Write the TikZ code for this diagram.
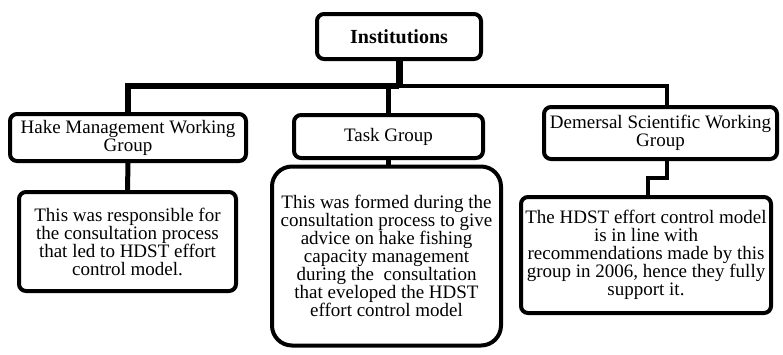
\documentclass[tikz,border=0pt]{standalone}
\usepackage{fontspec}
\setmainfont{Liberation Serif}
\usetikzlibrary{positioning}
\tikzset{
  head/.style ={rectangle, rounded corners=7pt, draw=black, line width=4pt,
                fill=white, align=center, inner sep=2pt,
                font=\fontsize{20}{20}\selectfont\bfseries},
  unit/.style ={rectangle, rounded corners=7pt, draw=black, line width=4pt,
                fill=white, align=center, inner sep=2pt,
                font=\fontsize{19}{18}\selectfont},
  note/.style ={unit},
  bus/.style  ={draw=black, line width=5pt},
  wire/.style ={draw=black, line width=3.5pt}
}

\begin{document}
\begin{tikzpicture}[x=1pt,y=-1pt]
\useasboundingbox (0,0) rectangle (783,354);

%% ---- Top ------------------------------------------------------------
\node[head, minimum width=164pt, minimum height=45pt] (inst) at (399,36.5)
{Institutions};

%% ---- Groups ---------------------------------------------------------
\node[unit, minimum width=236pt, minimum height=47pt] (hake) at (128,137.5)
{Hake Management Working\\Group};
\node[unit, minimum width=189pt, minimum height=43pt] (task) at (388.5,136.5)
{Task Group};
\node[unit, minimum width=233pt, minimum height=52pt] (dswg) at (660.5,133)
{Demersal Scientific Working\\Group};

%% ---- Descriptions ---------------------------------------------------
\node[note, minimum width=217pt, minimum height=99pt] (hakeTxt) at (127.5,241.5)
{This was responsible for\\the consultation process\\that led to HDST effort\\
control model.};
\node[note, rounded corners=20pt, minimum width=229pt, minimum height=179pt]
(taskTxt) at (386.5,256)
{This was formed during the\\consultation process to give\\advice on hake fishing\\
capacity management\\during the\ \ consultation\\that eveloped the HDST\\
effort control model};
\node[note, minimum width=250pt, minimum height=116pt] (dswgTxt) at (646,255)
{The HDST effort control model\\is in line with\\recommendations made by this\\
group in 2006, hence they fully\\support it.};

%% ---- Wiring ---------------------------------------------------------
\coordinate (busL) at (128,86);
\coordinate (busR) at (667,86);
\coordinate (jog) at (648,178);
\draw[bus, line width=7pt] (inst.south) -- (inst.south |- busL);
\draw[bus, line width=6pt] (hake.north) |- (inst.south |- busL);
\draw[bus] (task.north) -- (task.north |- busL);
\draw[wire] (inst.south |- busR) -- (busR) -- (busR |- dswg.north);
\draw[bus] (hake.south) -- (hakeTxt.north);
\draw[bus] (task.south) -- (task.south |- taskTxt.north);
\draw[wire] (busR |- dswg.south) |- (jog) -- (jog |- dswgTxt.north);
\end{tikzpicture}
\end{document}
